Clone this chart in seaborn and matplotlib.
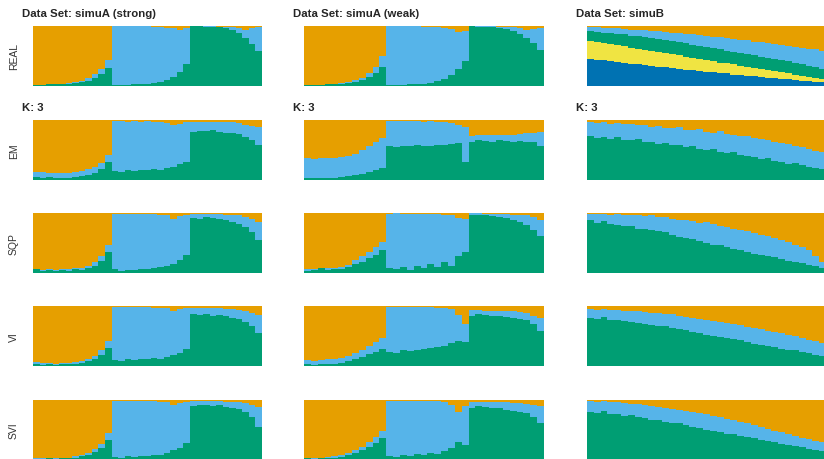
import matplotlib
matplotlib.use("Agg")
import matplotlib.pyplot as plt
import seaborn as sns
import pandas as pd

ORANGE, SKY, GREEN, YELLOW, BLUE = "#E69F00", "#56B4E9", "#009E73", "#F0E442", "#0072B2"

datasets = ["simuA (strong)", "simuA (weak)", "simuB"]
methods = ["REAL", "EM", "SQP", "VI", "SVI"]

# simuA: 3 groups of individuals (12, 12, 11). Values in percent.
# *_green = height of green (bottom) layer, *_top = green + sky blue, orange fills to 100
strong_real_green = [2, 2, 3, 3, 3, 4, 5, 6, 9, 14, 20, 30,
                     2, 2, 2, 3, 3, 4, 5, 7, 10, 15, 24, 36,
                     100, 100, 99, 99, 98, 96, 93, 88, 80, 70, 58]
strong_real_top = [2, 2, 3, 4, 4, 5, 7, 9, 13, 20, 29, 44,
                   100, 100, 100, 100, 100, 100, 99, 99, 97, 96, 94, 97,
                   100, 100, 100, 100, 99, 99, 98, 96, 94, 96, 98]
weak_real_green = [2, 2, 2, 3, 3, 4, 5, 7, 10, 15, 22, 32,
                   2, 2, 2, 3, 3, 4, 5, 8, 12, 18, 28, 42,
                   100, 99, 99, 98, 97, 95, 91, 86, 80, 71, 60]
weak_real_top = [2, 2, 2, 3, 4, 5, 7, 10, 14, 21, 32, 50,
                 100, 100, 100, 100, 100, 99, 99, 98, 97, 95, 90, 92,
                 100, 100, 100, 100, 99, 99, 98, 96, 94, 95, 97]

strong_em_green = [5, 4, 5, 3, 4, 4, 5, 6, 8, 12, 18, 30,
                   15, 14, 16, 15, 17, 16, 18, 17, 20, 22, 26, 30,
                   80, 82, 81, 83, 80, 79, 78, 76, 72, 66, 58]
strong_em_top = [13, 13, 12, 12, 12, 12, 14, 15, 18, 22, 28, 42,
                 98, 98, 97, 98, 97, 98, 97, 97, 95, 92, 94, 96,
                 96, 96, 96, 96, 96, 96, 96, 95, 92, 90, 88]
weak_em_green = [3, 3, 4, 3, 4, 5, 6, 8, 10, 13, 16, 20,
                 56, 55, 57, 56, 58, 57, 56, 58, 59, 60, 62, 30,
                 64, 66, 65, 64, 66, 65, 64, 65, 64, 63, 56]
weak_em_top = [36, 35, 37, 37, 37, 38, 40, 44, 50, 57, 64, 70,
               98, 98, 98, 98, 98, 97, 98, 97, 96, 95, 92, 88,
               74, 75, 75, 75, 75, 75, 75, 77, 78, 79, 80]

strong_sqp_green = [6, 4, 5, 3, 5, 4, 6, 5, 8, 12, 20, 35,
                    6, 4, 5, 5, 7, 6, 8, 10, 12, 15, 22, 30,
                    92, 90, 93, 91, 90, 88, 85, 82, 76, 68, 55]
strong_sqp_top = [7, 5, 6, 5, 6, 6, 8, 9, 12, 18, 28, 46,
                  99, 99, 99, 98, 99, 98, 98, 97, 96, 90, 95, 97,
                  99, 99, 99, 98, 98, 97, 97, 96, 93, 90, 85]
weak_sqp_green = [4, 5, 8, 5, 7, 6, 10, 15, 18, 25, 30, 38,
                  8, 6, 10, 5, 12, 8, 15, 10, 18, 12, 28, 35,
                  97, 96, 97, 95, 94, 92, 88, 85, 80, 72, 62]
weak_sqp_top = [6, 7, 9, 8, 9, 10, 14, 22, 28, 35, 44, 52,
                99, 100, 99, 99, 99, 99, 98, 99, 97, 96, 92, 90,
                100, 100, 99, 99, 99, 98, 97, 97, 96, 93, 88]

strong_vi_green = [3, 2, 3, 2, 3, 3, 4, 5, 8, 12, 18, 30,
                   10, 9, 11, 10, 12, 11, 13, 12, 15, 18, 22, 28,
                   86, 85, 87, 84, 85, 83, 80, 78, 74, 66, 55]
strong_vi_top = [6, 5, 5, 4, 5, 5, 6, 8, 12, 17, 26, 42,
                 99, 98, 99, 98, 98, 98, 97, 97, 96, 92, 95, 97,
                 97, 97, 96, 96, 96, 95, 95, 94, 92, 88, 85]
weak_vi_green = [3, 2, 3, 3, 4, 5, 8, 12, 15, 20, 24, 28,
                 24, 22, 26, 25, 27, 28, 30, 32, 34, 38, 42, 40,
                 84, 86, 85, 83, 84, 82, 80, 79, 76, 70, 58]
weak_vi_top = [10, 9, 10, 11, 12, 14, 17, 22, 27, 34, 40, 46,
               99, 99, 99, 99, 98, 99, 98, 97, 96, 95, 85, 70,
               93, 93, 92, 92, 92, 91, 91, 90, 88, 84, 80]

strong_svi_green = [2, 2, 3, 2, 3, 3, 4, 6, 9, 14, 20, 33,
                    5, 4, 6, 5, 6, 7, 8, 9, 12, 16, 20, 28,
                    90, 92, 91, 90, 92, 89, 87, 85, 80, 72, 55]
strong_svi_top = [4, 3, 4, 3, 4, 4, 6, 8, 12, 18, 27, 45,
                  99, 99, 99, 99, 99, 98, 98, 97, 96, 92, 95, 97,
                  99, 99, 98, 98, 98, 97, 97, 96, 95, 92, 88]
weak_svi_green = [3, 2, 3, 3, 4, 5, 8, 12, 16, 22, 28, 36,
                  6, 5, 8, 6, 10, 8, 12, 10, 15, 20, 30, 25,
                  86, 90, 88, 87, 86, 84, 82, 80, 78, 72, 62]
weak_svi_top = [4, 4, 4, 5, 6, 8, 12, 17, 22, 30, 38, 48,
                99, 99, 99, 99, 98, 99, 98, 98, 97, 92, 80, 90,
                97, 97, 97, 96, 96, 96, 95, 95, 94, 92, 90]

# simuB: continuous cline of 35 individuals
simub_real_blue_top = [45, 44, 43, 41, 40, 39, 37, 36, 35, 34, 32, 31, 30, 29, 27, 26, 25, 24,
                       23, 22, 21, 19, 18, 17, 16, 15, 14, 13, 12, 11, 10, 9, 8, 7, 6]
simub_real_yellow_top = [75, 73, 71, 70, 68, 66, 64, 62, 60, 58, 57, 55, 53, 51, 49, 47, 45, 43,
                         41, 39, 38, 36, 34, 32, 30, 28, 26, 25, 23, 21, 19, 17, 15, 14, 12]
simub_real_green_top = [91, 90, 89, 88, 87, 86, 84, 83, 81, 80, 78, 76, 75, 73, 71, 69, 67, 65,
                        63, 61, 59, 57, 55, 53, 51, 49, 47, 45, 43, 41, 39, 36, 34, 32, 29]
simub_real_sky_top = [98, 98, 97, 97, 96, 95, 94, 94, 93, 92, 91, 90, 89, 88, 87, 86, 85, 84,
                      82, 81, 80, 79, 77, 76, 74, 73, 71, 70, 68, 67, 65, 64, 62, 61, 59]

simub_em_green = [74, 70, 72, 68, 71, 67, 66, 69, 63, 64, 60, 62, 58, 59, 55, 57, 52, 50,
                  52, 46, 45, 46, 41, 40, 38, 35, 37, 32, 30, 27, 28, 25, 22, 20, 18]
simub_em_top = [97, 95, 96, 94, 95, 93, 94, 91, 92, 89, 90, 87, 86, 88, 84, 83, 85, 80,
                79, 81, 76, 75, 73, 74, 70, 69, 66, 64, 62, 60, 56, 55, 52, 49, 46]
simub_sqp_green = [88, 84, 86, 82, 80, 78, 79, 74, 73, 72, 70, 68, 64, 60, 58, 56, 54, 50,
                   47, 46, 44, 40, 38, 35, 32, 30, 28, 26, 24, 20, 18, 17, 14, 12, 9]
simub_sqp_top = [99, 98, 99, 97, 98, 96, 97, 96, 95, 96, 94, 93, 90, 89, 88, 86, 84, 85,
                 82, 78, 76, 74, 72, 70, 67, 63, 62, 58, 55, 52, 47, 44, 38, 28, 18]
simub_vi_green = [80, 78, 81, 77, 76, 75, 74, 71, 70, 68, 67, 66, 63, 62, 60, 57, 55, 52,
                  50, 49, 47, 45, 43, 40, 37, 35, 33, 31, 29, 27, 26, 24, 21, 19, 17]
simub_vi_top = [95, 94, 95, 93, 93, 92, 91, 91, 90, 89, 88, 87, 86, 84, 82, 80, 78, 76,
                75, 73, 72, 70, 68, 65, 63, 61, 59, 57, 55, 52, 50, 47, 44, 41, 39]
simub_svi_green = [80, 78, 82, 76, 77, 74, 75, 71, 70, 67, 66, 64, 61, 62, 58, 55, 54, 50,
                   48, 47, 44, 43, 40, 38, 36, 33, 31, 30, 27, 25, 23, 21, 19, 17, 15]
simub_svi_top = [98, 97, 98, 97, 96, 95, 94, 93, 92, 90, 88, 87, 85, 84, 82, 80, 78, 76,
                 74, 71, 69, 67, 64, 61, 58, 55, 52, 49, 46, 43, 40, 37, 35, 32, 30]

three_layer = {
    ("simuA (strong)", "REAL"): (strong_real_green, strong_real_top),
    ("simuA (weak)", "REAL"): (weak_real_green, weak_real_top),
    ("simuA (strong)", "EM"): (strong_em_green, strong_em_top),
    ("simuA (weak)", "EM"): (weak_em_green, weak_em_top),
    ("simuB", "EM"): (simub_em_green, simub_em_top),
    ("simuA (strong)", "SQP"): (strong_sqp_green, strong_sqp_top),
    ("simuA (weak)", "SQP"): (weak_sqp_green, weak_sqp_top),
    ("simuB", "SQP"): (simub_sqp_green, simub_sqp_top),
    ("simuA (strong)", "VI"): (strong_vi_green, strong_vi_top),
    ("simuA (weak)", "VI"): (weak_vi_green, weak_vi_top),
    ("simuB", "VI"): (simub_vi_green, simub_vi_top),
    ("simuA (strong)", "SVI"): (strong_svi_green, strong_svi_top),
    ("simuA (weak)", "SVI"): (weak_svi_green, weak_svi_top),
    ("simuB", "SVI"): (simub_svi_green, simub_svi_top),
}


def stacked(ax, layers):
    """Draw stacked admixture bars by overlaying cumulative heights, tallest first."""
    n = len(layers[0][0])
    for vals, color in layers:
        assert len(vals) == n
        df = pd.DataFrame({"ind": range(n), "q": vals})
        sns.barplot(data=df, x="ind", y="q", color=color, width=1.0, saturation=1,
                    errorbar=None, linewidth=0, ax=ax)
    ax.set_xlim(-0.5, n - 0.5)
    ax.set_ylim(0, 100)
    ax.set_axis_off()


sns.set_theme(style="white")
plt.rcParams["font.family"] = ["Liberation Sans", "DejaVu Sans"]

W, H = 824, 460
fig = plt.figure(figsize=(W / 100, H / 100), dpi=100)

col_x = [(33, 262), (304, 544), (587, 826)]
row_y = [27, 121, 214, 307, 401]
ph = 60

for c, dset in enumerate(datasets):
    x0, x1 = col_x[c]
    for r, meth in enumerate(methods):
        y0 = row_y[r]
        ax = fig.add_axes([x0 / W, 1 - (y0 + ph) / H, (x1 - x0) / W, ph / H])
        if dset == "simuB" and meth == "REAL":
            full = [100] * len(simub_real_sky_top)
            stacked(ax, [(full, ORANGE), (simub_real_sky_top, SKY),
                         (simub_real_green_top, GREEN), (simub_real_yellow_top, YELLOW),
                         (simub_real_blue_top, BLUE)])
        else:
            green, top = three_layer[(dset, meth)]
            full = [100] * len(green)
            stacked(ax, [(full, ORANGE), (top, SKY), (green, GREEN)])

        if r == 0:
            fig.text((x0 - 11) / W, 1 - 17 / H, f"Data Set: {dset}", fontsize=8.2,
                     fontweight="bold", va="baseline", ha="left")
        if r == 1:
            fig.text((x0 - 11) / W, 1 - 111 / H, "K: 3", fontsize=8.2,
                     fontweight="bold", va="baseline", ha="left")
        if c == 0:
            fig.text(14 / W, 1 - (y0 + ph / 2) / H, meth, fontsize=7.5, rotation=90,
                     va="center", ha="center", color="#333333")

fig.savefig("out.png", dpi=100)
